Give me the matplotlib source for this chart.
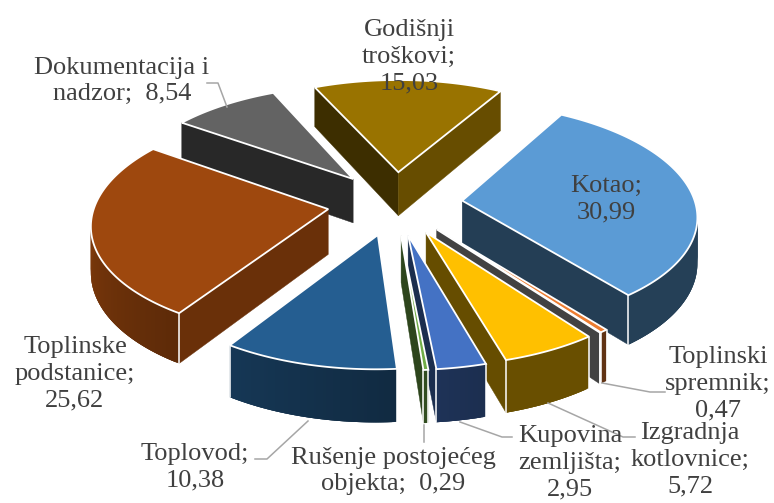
import numpy as np
import matplotlib
matplotlib.use('Agg')
import matplotlib.pyplot as plt

plt.rcParams['font.family'] = ['Liberation Serif', 'DejaVu Serif']

# clockwise from the start angle, same order as the sheet
names = ['Kotao;\n', 'Toplinski\nspremnik;\n', '', 'Izgradnja\nkotlovnice;\n',
         'Kupovina\nzemljišta;\n', 'Rušenje postojećeg\nobjekta;  ', 'Toplovod;\n',
         'Toplinske\npodstanice;\n', 'Dokumentacija i\nnadzor;  ', 'Godišnji\ntroškovi;\n']
values = [30.99, 0.47, 0.0, 5.72, 2.95, 0.29, 10.38, 25.62, 8.54, 15.03]
colors = ['#5B9BD5', '#ED7D31', '#A5A5A5', '#FFC000', '#4472C4',
          '#70AD47', '#255E91', '#9E480E', '#636363', '#997300']

label_pos = [(606, 199), (718, 384), None, (690, 460), (570, 463),
             (393, 471), (195, 467), (75, 374), (122, 81), (409, 57)]

leaders = [[(207, 83), (218, 83), (227, 107)],
           [(602, 383), (650, 392), (665, 392)],
           [(548, 403), (623, 437), (635, 437)],
           [(460, 422), (502, 437), (512, 437)],
           [(424, 425), (424, 442)],
           [(255, 459), (267, 459), (308, 421)]]

start = 30.0
explode = 0.29
cx, cy = 395, 203
rx, ry = 233, 110
dist = 8.4
depth = 45


def project(u, v):
    s = dist / (dist - v)
    return cx + rx * u * s, cy + ry * v * s, depth * s


def shade(col, f):
    return tuple(c * f for c in matplotlib.colors.to_rgb(col))


fig = plt.figure(figsize=(7.74, 5.03), dpi=100)
ax = fig.add_axes([0, 0, 1, 1])
ax.set_xlim(0, 774)
ax.set_ylim(503, 0)
ax.axis('off')

total = sum(values)
slices = []
a0 = start
for val, col in zip(values, colors):
    a1 = a0 + val / total * 360
    mid = np.radians((a0 + a1) / 2)
    ou, ov = explode * np.sin(mid), -explode * np.cos(mid)
    slices.append((project(ou, ov)[1], a0, a1, ou, ov, col))
    a0 = a1

# far slices first
for _, a0, a1, ou, ov, col in sorted(slices, key=lambda t: t[0]):
    ang = np.radians(np.linspace(a0, a1, max(int(a1 - a0) * 2, 2)))
    px, py, pd = project(ou + np.sin(ang), ov - np.cos(ang))
    ax_, ay_, ad_ = project(ou, ov)

    # radial walls, only the ones turned to the viewer
    for idx, normal in ((0, a0 - 90), (-1, a1 + 90)):
        n = np.radians(normal)
        if -np.cos(n) > 0:
            f = 0.67 if np.sin(n) > 0 else 0.4
            ax.fill([ax_, px[idx], px[idx], ax_],
                    [ay_, py[idx], py[idx] + pd[idx], ay_ + ad_],
                    color=shade(col, f), lw=0.3, zorder=2)

    # outer wall, darker to the right, strips overlap so no seams show
    for i in range(len(ang) - 1):
        deg = np.degrees(ang[i])
        if np.cos(ang[i]) >= 0:
            continue
        j = min(i + 3, len(ang) - 1)
        f = 0.41 + 0.38 * np.clip((deg - 165) / 100, 0, 1)
        ax.fill([px[i], px[j], px[j], px[i]],
                [py[i], py[j], py[j] + pd[j], py[i] + pd[i]],
                color=shade(col, f), lw=0, zorder=2)

    # white corners between the faces
    for idx in (0, -1):
        if np.cos(ang[idx]) < 0:
            ax.plot([px[idx], px[idx]], [py[idx], py[idx] + pd[idx]],
                    color='white', lw=1.1, zorder=2)

    ax.fill(np.r_[ax_, px], np.r_[ay_, py], facecolor=col, edgecolor='white',
            lw=1.3, joinstyle='miter', zorder=2)

for line in leaders:
    xs, ys = zip(*line)
    ax.plot(xs, ys, color='#A6A6A6', lw=1.1, zorder=4)

for name, val, pos in zip(names, values, label_pos):
    if pos is None:
        continue
    txt = name + f'{val:.2f}'.replace('.', ',')
    ax.text(pos[0], pos[1], txt, ha='center', va='center', fontsize=19,
            color='#404040', linespacing=1.27, zorder=5)

fig.savefig('out.png', dpi=100)
